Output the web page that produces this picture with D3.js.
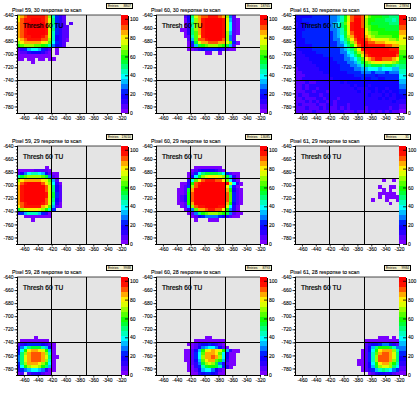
<!DOCTYPE html>
<html>
<head>
<meta charset="utf-8">
<script src="https://cdn.jsdelivr.net/npm/d3@7"></script>
<style>
    body { margin: 0; background: #fff; }
    text { font-family: "Liberation Sans", sans-serif; fill: #000; }
</style>
</head>
<body>
<script>
const titles = [
    "Pixel 59, 30 response to scan", "Pixel 60, 30 response to scan", "Pixel 61, 30 response to scan",
    "Pixel 59, 29 response to scan", "Pixel 60, 29 response to scan", "Pixel 61, 29 response to scan",
    "Pixel 59, 28 response to scan", "Pixel 60, 28 response to scan", "Pixel 61, 28 response to scan",
];
const entries = ["8807", "18765", "27894", "19010", "13085", "31", "9988", "8793", "9984"];
const xTicks = [-460, -440, -420, -400, -380, -360, -340, -320];
const yTicks = [-640, -660, -680, -700, -720, -740, -760, -780];
const zTicks = [0, 20, 40, 60, 80, 100];
const pixelEdgesX = [-420, -370];
const pixelEdgesY = [-690, -740];

// colour level of each 5x5 bin, one string per row from the top, "." = empty
const levelChars = "0123456789abcdefghij";

const p59_30 = [
    "eghiiiiihd8421",
    "fhiijjjihe9421",
    "ghijjjjjhe9421.1",
    "ghijjjjjie84211",
    "ghijjjjjie94211",
    "ghijjjjjie84211",
    "ghiijjjihe83211",
    "fghiiiihhd83210",
    "dfgggggfec7421",
    "bcdddccba85321",
    "1246776421.0",
    "0112333210.0",
    "0000000000",
    "00.00.00.00",
    "....0",
];
const p60_30 = [
    "........139eghhiiihgd51",
    "........038dgijjjjjie610",
    "........029dgijjjjjie710",
    "........028dgijjjjjie710",
    ".......0029dgijjjjjie710",
    "........029cgijjjjjid610",
    "........018cfijjjjjid51",
    ".........16chhijjjjhd51",
    ".........04aegghhhggec40",
    ".........026abcdddcba61",
    ".........00123444432100",
    "..............00..0",
];
const p61_30 = [
    "33333444445568behiihecbbbaa999",
    "33444444445568behjjhdbbaaa9989",
    "23334444445679cfijjhdbaaaaa999",
    "23344444445679beijjhdcbbaaaaaa",
    "33344444445568beijjiecbbbbaaaa",
    "33444444444568aehjjifdccbbbbbb",
    "33444444444567adgijigedcccccbb",
    "333444444445579cfhjjhgfeeeeddc",
    "233444444444568adgijihhgggfffe",
    "233334444444 5579behjjiiiiihhgg".replace(" ", "").slice(0, 30),
    "23333444444445689cfijjjjjjjiii",
    "22333344444445578adgijjjjjjjji",
    "222333334444445679behijjjjjjjh",
    "2222333333344455679cfghiihhhgf",
    "2222233333334445568acdeffeeedc",
    "2222223333333444556 8a9aaa9aa98".replace(" ", "").slice(0, 30),
    "122222233333344445566777677766",
    "112222223333333444455545554555",
    "111222222233333334444443444444",
    "112222222223333333343344334444",
    "111211222222232333333333333333",
    "112122222222222232333233333333",
    "112122122222222223222332332333",
    "111221222122222222322232323233",
    "121122212222222222222322232323",
    "112111221222122222222222323223",
    "111212122121222222222222222232",
    "121111211221222122222222222222",
    "111211121211212122221222222122",
    "111112111111121112111212121211",
];
const p59_29 = [
    "", "", "", "", "", "",
    "........0",
    "0000011110",
    "135788763100",
    "8acddddca510",
    "dfgggggfec61",
    "fhijjjjhfd720",
    "gijjjjjjhe931",
    "gijjjjjjhe931",
    "gijjjjjjiea41",
    "gijjjjjjiea41",
    "gijjjjjjhe931",
    "ghijjjjihe820",
    "fhiiiiigfc610",
    "adefffedb84",
    "2468886420",
    "..00000000",
    "....0",
];
const p60_29 = [
    "", "", "", "", "", "",
    "...........00000000",
    "..........0123333210",
    ".........01479aaaa974100",
    ".........037adefffeda620",
    ".........27cfhiiihhfc720",
    ".......002bhijjjjjjjje720",
    ".......014dhjjjjjjjjf820",
    "......001agjjjjjjjjjgb310",
    "......001bhjjjjjjjjjhc410",
    "......012bhjjjjjjjjjhc410",
    "......012bhjjjjjjjjjhc410",
    "......001bgjjjjjjjjjgb310",
    ".......016dhiijjjjiie720",
    "........025cgghiihhfb520",
    ".........0159bcdddcba5100",
    "..........01345555432100",
    "...........0...000",
];
const p61_29 = [
    "", "", "", "", "", "", "", "", "", "",
    ".........................0..0",
    "",
    "........................0..00",
    ".........................0.0",
    "........................00000",
    "........................0.0000",
    "......................0...0..0",
    "...........................0",
];
const p59_28 = [
    "", "", "", "", "", "", "", "", "", "", "", "", "", "", "", "", "", "",
    ".....0",
    ".00000000",
    "12344443210",
    "2579aaa8630",
    "37bfggfeb60",
    "49dghhhgd80",
    "59eghhhge900",
    "59eghhhgd80",
    "49dgggfdb70",
    "37bdeedb960",
    "24567765200",
    "01.1222100",
];
const p60_28 = [
    "", "", "", "", "", "", "", "", "", "", "", "", "", "", "", "", "", "",
    "..............00",
    "...........000000000",
    ".........00123343210",
    "..........01356775310",
    "........00136befgfeb6200",
    "........00147cgggfc7300",
    "........00147dgghgd7300",
    "........00136cfggcb6200",
    ".........0125adeda52100",
    ".........00248abba8420",
    ".........00136775310",
    "..........0023443200",
];
const p61_28 = [
    "", "", "", "", "", "", "", "", "", "", "", "", "", "", "", "", "", "",
    "........................000.0",
    "....................0000000000",
    "....................1233455421",
    "....................1369bbba85",
    "...................0137bfgggd8",
    "...................0148cghhge9",
    "...................0148dhhhge9",
    "..................00148dhhhgd9",
    "..................00137bfggdb8",
    "...................0136adeed97",
    "...................01246898754",
    ".....................012332210",
];
const panels = [p59_30, p60_30, p61_30, p59_29, p60_29, p61_29, p59_28, p60_28, p61_28];

const palette = ["#7a00ff", "#5500ff", "#2a00ff", "#1100ff", "#0022ff", "#0077ff", "#00bbff", "#00ffff",
    "#00ffbb", "#00ff77", "#00ff33", "#11ff00", "#55ff00", "#99ff00", "#ddff00", "#ffee00",
    "#ffaa00", "#ff5500", "#ff1100", "#ff0000"];

const plotW = 104, plotH = 98, barW = 7;
const plotLefts = [17, 156, 295];
const plotTops = [15, 146, 277];
const xMin = -470, xMax = -320, yMax = -640, yMin = -790, binSize = 5, zMax = 104;

const x = d3.scaleLinear().domain([xMin, xMax]).range([0, plotW]);
const y = d3.scaleLinear().domain([yMin, yMax]).range([plotH, 0]);
const z = d3.scaleLinear().domain([0, zMax]).range([plotH, 0]);
const color = d3.scaleQuantize().domain([0, zMax]).range(palette);

const svg = d3.select("body").append("svg")
    .attr("width", 418)
    .attr("height", 393)
    .style("display", "block");

function parseBins(rows) {
    const bins = [];
    rows.forEach((row, r) => {
        row.split("").forEach((ch, c) => {
            if (ch === ".") return;
            bins.push({
                x0: xMin + c * binSize,
                y1: yMax - r * binSize,
                value: (levelChars.indexOf(ch) + 0.5) * zMax / palette.length,
            });
        });
    });
    return bins;
}

function styleAxis(g) {
    g.attr("font-size", 5).attr("font-family", null);
    g.selectAll(".domain").attr("stroke", "#000").attr("stroke-width", 1).attr("shape-rendering", "crispEdges");
    g.selectAll(".tick line").attr("stroke", "#000").attr("stroke-width", 0.8);
    g.selectAll(".tick text").attr("stroke", "#000").attr("stroke-width", 0.1);
}

panels.forEach((rows, i) => {
    const left = plotLefts[i % 3];
    const top = plotTops[Math.floor(i / 3)];
    const g = svg.append("g").attr("transform", `translate(${left},${top})`);

    g.append("rect")
        .attr("width", plotW)
        .attr("height", plotH)
        .attr("fill", "#e4e4e4");

    g.append("g")
        .attr("shape-rendering", "crispEdges")
        .selectAll("rect")
        .data(parseBins(rows))
        .join("rect")
        .attr("x", d => x(d.x0))
        .attr("y", d => y(d.y1))
        .attr("width", x(xMin + binSize) - x(xMin) + 0.4)
        .attr("height", y(yMax - binSize) - y(yMax) + 0.4)
        .attr("fill", d => color(d.value));

    // pixel boundaries
    g.selectAll(".vline")
        .data(pixelEdgesX)
        .join("line")
        .attr("class", "vline")
        .attr("x1", d => x(d)).attr("x2", d => x(d))
        .attr("y1", 0).attr("y2", plotH)
        .attr("stroke", "#000").attr("stroke-width", 1)
        .attr("shape-rendering", "crispEdges");
    g.selectAll(".hline")
        .data(pixelEdgesY)
        .join("line")
        .attr("class", "hline")
        .attr("x1", 0).attr("x2", plotW)
        .attr("y1", d => y(d)).attr("y2", d => y(d))
        .attr("stroke", "#000").attr("stroke-width", 1)
        .attr("shape-rendering", "crispEdges");

    // minor ticks first, then the labelled ones
    g.append("g")
        .attr("transform", `translate(0,${plotH})`)
        .call(d3.axisBottom(x).tickValues(d3.range(xMin, xMax + 1, binSize)).tickSize(1).tickFormat(""))
        .call(styleAxis);
    g.append("g")
        .attr("transform", `translate(0,${plotH})`)
        .call(d3.axisBottom(x).tickValues(xTicks).tickFormat(String).tickSize(2.5).tickPadding(1).tickSizeOuter(0))
        .call(styleAxis);
    g.append("g")
        .call(d3.axisLeft(y).tickValues(d3.range(yMin, yMax + 1, binSize)).tickSize(1).tickFormat(""))
        .call(styleAxis);
    g.append("g")
        .call(d3.axisLeft(y).tickValues(yTicks).tickFormat(String).tickSize(2.5).tickPadding(1).tickSizeOuter(0))
        .call(styleAxis);

    g.append("line")
        .attr("x1", 0).attr("x2", plotW)
        .attr("stroke", "#000").attr("stroke-width", 0.7);

    // colour bar
    const bar = g.append("g").attr("transform", `translate(${plotW},0)`);
    bar.append("g")
        .attr("shape-rendering", "crispEdges")
        .selectAll("rect")
        .data(palette)
        .join("rect")
        .attr("y", (d, k) => z((k + 1) * zMax / palette.length))
        .attr("width", barW)
        .attr("height", plotH / palette.length + 0.4)
        .attr("fill", d => d);
    bar.append("g")
        .attr("transform", `translate(${barW},0)`)
        .call(d3.axisRight(z).tickValues(zTicks).tickSize(-3).tickPadding(2).tickSizeOuter(0))
        .call(styleAxis);

    // text
    g.append("text")
        .attr("x", -5)
        .attr("y", -3.5)
        .attr("font-size", 5.3)
        .attr("stroke", "#000")
        .attr("stroke-width", 0.1)
        .text(titles[i]);
    g.append("text")
        .attr("x", 6)
        .attr("y", 13)
        .attr("font-size", 6.6)
        .attr("stroke", "#000")
        .attr("stroke-width", 0.2)
        .text("Thresh 60 TU");

    // stats box
    g.append("rect")
        .attr("x", 89.5).attr("y", -11.5)
        .attr("width", 26).attr("height", 5)
        .attr("fill", "#f4f0cc")
        .attr("stroke", "#000").attr("stroke-width", 1);
    g.append("text")
        .attr("x", 91).attr("y", -7.6)
        .attr("font-size", 3.4)
        .text("Entries");
    g.append("text")
        .attr("x", 114).attr("y", -7.6)
        .attr("font-size", 3.4)
        .attr("text-anchor", "end")
        .text(entries[i]);
});
</script>
</body>
</html>
